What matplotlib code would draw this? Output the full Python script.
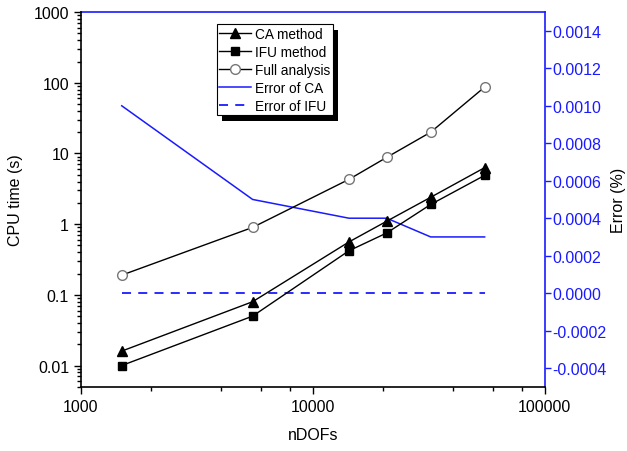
import matplotlib
matplotlib.use("Agg")
import matplotlib.pyplot as plt
from matplotlib.patches import Rectangle
from matplotlib.transforms import IdentityTransform
from matplotlib.ticker import LogLocator, NullFormatter, FixedLocator, FuncFormatter

plt.rcParams['font.family'] = ['Liberation Sans', 'DejaVu Sans']

ndofs = [1500, 5500, 14300, 20800, 32200, 55000]
cpu_ca = [0.016, 0.08, 0.56, 1.1, 2.4, 6.3]
cpu_ifu = [0.010, 0.05, 0.42, 0.75, 1.9, 4.9]
cpu_full = [0.19, 0.9, 4.3, 8.8, 20, 87]
err_ca = [0.0010, 0.0005, 0.0004, 0.0004, 0.0003, 0.0003]
err_ifu = [0.0, 0.0, 0.0, 0.0, 0.0, 0.0]

blue = '#1a1aff'
fs = 11.5
fig = plt.figure(figsize=(6.27, 4.52), dpi=100)
ax = fig.add_axes([0.129, 0.142, 0.740, 0.829])
ax2 = ax.twinx()

l1, = ax.plot(ndofs, cpu_ca, '-^', color='black', lw=1, ms=7, mfc='black', label='CA method')
l2, = ax.plot(ndofs, cpu_ifu, '-s', color='black', lw=1, ms=6, mfc='black', label='IFU method')
l3, = ax.plot(ndofs, cpu_full, '-o', color='black', lw=1, ms=7, mfc='white', mec='#777777', label='Full analysis')
l4, = ax2.plot(ndofs, err_ca, '-', color=blue, lw=1.1, label='Error of CA')
l5, = ax2.plot(ndofs, err_ifu, '--', color=blue, lw=1.3, dashes=(5, 4), label='Error of IFU')

ax.set_xscale('log')
ax.set_yscale('log')
ax.set_xlim(1000, 100000)
ax.set_ylim(0.005, 1000)
ax2.set_ylim(-0.0005, 0.0015)

ax.set_zorder(2)
ax.patch.set_visible(False)

ax.xaxis.set_major_locator(FixedLocator([1000, 10000, 100000]))
ax.xaxis.set_major_formatter(FuncFormatter(lambda v, p: f'{int(round(v))}'))
ax.xaxis.set_minor_locator(LogLocator(base=10, subs=[2, 4, 6, 8], numticks=10))
ax.xaxis.set_minor_formatter(NullFormatter())
ax.yaxis.set_major_locator(FixedLocator([0.01, 0.1, 1, 10, 100, 1000]))
ax.yaxis.set_major_formatter(FuncFormatter(lambda v, p: ('%g' % v)))
ax.yaxis.set_minor_locator(LogLocator(base=10, subs=[2, 3, 4, 5, 6, 7, 8, 9], numticks=20))
ax.yaxis.set_minor_formatter(NullFormatter())

ax.tick_params(axis='both', which='major', direction='out', length=5, width=1, labelsize=fs)
ax.tick_params(axis='both', which='minor', direction='out', length=3, width=1)
ax.tick_params(top=False, right=False)

ax2.set_yticks([-0.0004, -0.0002, 0.0, 0.0002, 0.0004, 0.0006, 0.0008, 0.0010, 0.0012, 0.0014])
ax2.yaxis.set_major_formatter(FuncFormatter(lambda v, p: f'{v:.4f}'))
ax2.tick_params(axis='y', colors=blue, direction='out', length=4, width=1, labelsize=fs, pad=1.5)

for s in ['left', 'bottom']:
    ax.spines[s].set_linewidth(1.2)
ax.spines['right'].set_visible(False)
ax.spines['top'].set_visible(False)
ax2.spines['right'].set_color(blue)
ax2.spines['top'].set_color(blue)
ax2.spines['right'].set_linewidth(1.2)
ax2.spines['top'].set_linewidth(1.2)
ax2.spines['left'].set_visible(False)
ax2.spines['bottom'].set_visible(False)

ax.set_xlabel('nDOFs', fontsize=fs)
ax.xaxis.set_label_coords(0.5, -0.108)
ax.set_ylabel('CPU time (s)', fontsize=fs)
ax.yaxis.set_label_coords(-0.125, 0.5)
ax2.set_ylabel('Error (%)', fontsize=fs)
ax2.yaxis.set_label_coords(1.142, 0.5)

leg = ax.legend(handles=[l1, l2, l3, l4, l5], loc='upper left', bbox_to_anchor=(0.293, 0.968),
                fontsize=9.8, frameon=True, fancybox=False, shadow=False,
                edgecolor='black', framealpha=1, handlelength=2.35, handletextpad=0.3, borderpad=0.18,
                labelspacing=0.3, borderaxespad=0)
leg.get_frame().set_linewidth(0.8)

fig.canvas.draw()
bb = leg.get_window_extent()
shadow = Rectangle((bb.x0 + 5, bb.y0 - 6), bb.width, bb.height, transform=IdentityTransform(),
                   facecolor='black', edgecolor='none', zorder=1)
fig.add_artist(shadow)

fig.savefig('out.png', dpi=100)
